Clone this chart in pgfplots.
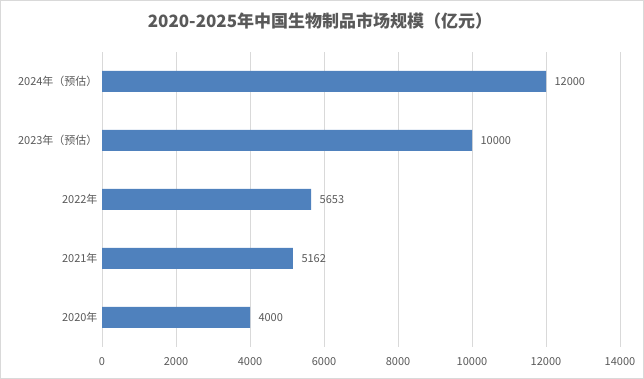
\documentclass[border=0pt]{standalone}
\usepackage{pgfplots}
\pgfplotsset{compat=1.18}
\usepackage{fontspec}
\setmainfont{Noto Sans CJK SC}
\definecolor{barblue}{HTML}{4F81BD}
\definecolor{txt}{HTML}{595959}
\definecolor{gridc}{HTML}{D9D9D9}
\begin{document}
\begin{tikzpicture}[x=1pt,y=1pt]
\path[use as bounding box] (0,0) rectangle (644,379);
\draw[gridc, line width=1pt] (0.5,0.5) rectangle (643.5,378.5);
\node[text=txt, font=\fontsize{17}{20}\selectfont\bfseries] at (320,358) {2020-2025年中国生物制品市场规模（亿元）};
\begin{axis}[
  at={(102pt,32pt)}, anchor=south west,
  scale only axis, width=518pt, height=295pt,
  xbar, bar width=21pt,
  xmin=0, xmax=14000, ymin=-0.5, ymax=4.5,
  xtick={0,2000,...,14000},
  scaled x ticks=false,
  ytick={0,1,2,3,4},
  yticklabels={2020年,2021年,2022年,2023年（预估）,2024年（预估）},
  xmajorgrids, grid style={gridc, line width=0.8pt},
  axis line style={draw=none},
  major tick length=0pt,
  /pgf/number format/assume math mode=true,
  /pgf/number format/1000 sep={},
  tick label style={text=txt, font=\fontsize{11}{13}\selectfont},
  xticklabel style={anchor=center, yshift=-15pt, /pgf/number format/fixed, /pgf/number format/precision=0},
  yticklabel style={anchor=east, xshift=-1pt},
  nodes near coords,
  nodes near coords style={anchor=west, xshift=5pt, text=txt, font=\fontsize{11}{13}\selectfont, /pgf/number format/assume math mode=true, /pgf/number format/1000 sep={}},
  clip=false,
]
\addplot[fill=barblue, draw=none] coordinates {(4000,0) (5162,1) (5653,2) (10000,3) (12000,4)};
\end{axis}
\end{tikzpicture}
\end{document}
